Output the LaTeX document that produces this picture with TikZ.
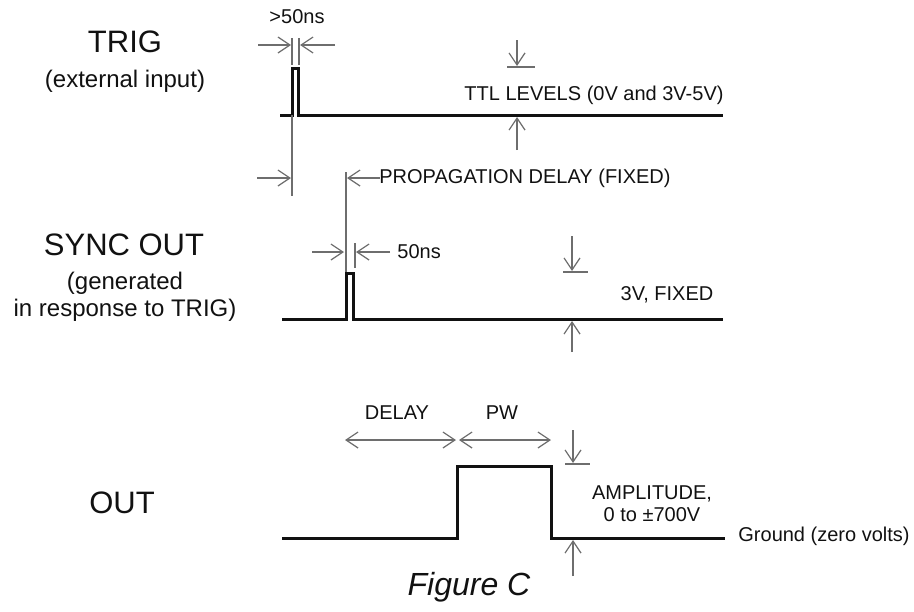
\documentclass[tikz,border=0pt]{standalone}
\usepackage{fontspec}
\setmainfont{Liberation Sans}
\usepackage{tikz}
\usetikzlibrary{arrows.meta}
\definecolor{sigink}{HTML}{111111}
\definecolor{dimgray}{HTML}{6E6E6E}

\begin{document}
\begin{tikzpicture}[x=0.5pt,y=-0.5pt,
  signal/.style={draw=sigink,line width=1.5pt,line join=miter},
  dimline/.style={draw=dimgray,line width=.6pt},
  dimarrow/.style={dimline,-{Straight Barb[length=6pt,width=8pt]}},
  dimboth/.style={dimline,{Straight Barb[length=6pt,width=8pt]}-{Straight Barb[length=6pt,width=8pt]}},
  title/.style={font=\fontsize{15.5}{18}\selectfont,text=sigink,inner sep=0pt},
  subtitle/.style={font=\fontsize{12}{13.5}\selectfont,text=sigink,align=center,inner sep=0pt},
  note/.style={font=\fontsize{10}{11}\selectfont,text=sigink,inner sep=0pt}
]
  \useasboundingbox (0,0) rectangle (914,611);

  \node[title] (trigname) at (125,42) {TRIG};
  \node[subtitle,anchor=north] (trignote) at (125,70) {(external input)};
  \draw[signal] (280,115) -- (292,115) coordinate (trigrise) -- (292,68)
    -- (298,68) -- (298,115) -- (723,115) coordinate (trigend);

  \draw[dimline] (292,38) -- (292,65);
  \draw[dimline] (299,38) -- (299,65);
  \draw[dimarrow] (258,45) -- (291,45);
  \draw[dimarrow] (335,45) -- (300,45);
  \node[note] (trigwidth) at (297,17) {>50ns};

  \draw[dimline] (trigrise) -- (292,196);
  \draw[dimarrow] (257,178) -- (291,178);
  \draw[dimline] (346,172) -- (346,272);
  \draw[dimarrow] (380,178) -- (347,178);
  \node[note,anchor=west] (propdelay) at (379,178) {PROPAGATION DELAY (FIXED)};

  \draw[dimarrow] (517,40) -- (517,66);
  \draw[dimline] (507,67) -- (535,67);
  \node[note] (ttllevels) at (594,95) {TTL LEVELS (0V and 3V-5V)};
  \draw[dimarrow] (517,150) -- (517,117);

  \node[title] (syncname) at (124,245) {SYNC OUT};
  \node[subtitle,anchor=north] (syncnote) at (125,272) {(generated\\in response to TRIG)};
  \draw[signal] (282,319) -- (346,319) -- (346,273) -- (353,273) -- (353,319)
    -- (723,319) coordinate (syncend);

  \draw[dimline] (355,243) -- (355,268);
  \draw[dimarrow] (312,252) -- (344,252);
  \draw[dimarrow] (390,252) -- (356,252);
  \node[note,anchor=west] (syncwidth) at (397,252) {50ns};

  \draw[dimarrow] (572,236) -- (572,271);
  \draw[dimline] (563,272) -- (588,272);
  \node[note] (synclevel) at (667,295) {3V, FIXED};
  \draw[dimarrow] (572,352) -- (572,321);

  \node[title] (outname) at (122,503) {OUT};
  \draw[signal] (282,538) -- (457,538) coordinate (outrise) -- (457,466)
    -- (551,466) -- (551,538) coordinate (outfall) -- (725,538) coordinate (outend);

  \draw[dimboth] (345,440) -- (456,440);
  \draw[dimboth] (459,440) -- (551,440);
  \node[note] (delaylabel) at (397,413) {DELAY};
  \node[note] (pwlabel) at (502,413) {PW};

  \draw[dimarrow] (573,430) -- (573,463);
  \draw[dimline] (565,464) -- (590,464);
  \node[note,align=center] (amplabel) at (652,504) {AMPLITUDE,\\0 to ±700V};
  \draw[dimarrow] (573,576) -- (573,540);
  \node[note,anchor=west] (groundlabel) at (738,536) {Ground (zero volts)};

  \node[font=\fontsize{16}{19}\selectfont\itshape,text=sigink] (figlabel) at (469,587) {Figure C};
\end{tikzpicture}
\end{document}
